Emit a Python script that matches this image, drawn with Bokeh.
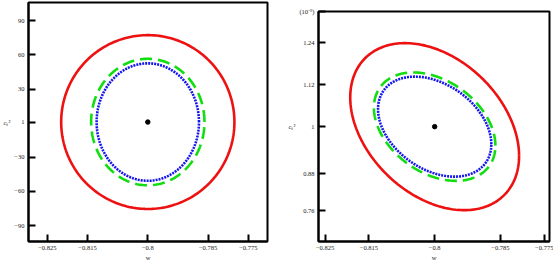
import numpy as np
from bokeh.plotting import figure
from bokeh.layouts import row
from bokeh.models import FixedTicker, Range1d
from bokeh.embed import file_html
from bokeh.resources import INLINE

# ---- data ----
x_ticks = [-0.825, -0.815, -0.8, -0.785, -0.775]
x_tick_labels = ["\u22120.825", "\u22120.815", "\u22120.8", "\u22120.785", "\u22120.775"]

left_y_ticks = [90, 60, 30, 1, -30, -60, -90]
left_y_labels = ["90", "60", "30", "1", "\u221230", "\u221260", "\u221290"]
right_y_ticks = [1.24, 1.12, 1.0, 0.8675, 0.76]
right_y_labels = ["1.24", "1.12", "1", "0.88", "0.76"]

# best-fit point
left_center = (-0.8, 1.0)
right_center = (-0.8, 1.0)

# contour ellipses: red (solid), green (dashed), blue (dotted)
left_half_w = [0.02155, 0.0141, 0.01273]
left_half_h = [76.4, 55.6, 51.6]
left_corr = [0.0, 0.0, 0.0]
right_half_w = [0.01926, 0.01386, 0.01292]
right_half_h = [0.2382, 0.1546, 0.1426]
right_corr = [-0.35, -0.35, -0.35]

x_label = "w"
y_label = "c\u209b\u00b2"
right_scale_label = "(10\u207b\u2079)"

styles = [
    dict(line_color="#ee1111", line_width=2.6),
    dict(line_color="#11dd11", line_width=2.6, line_dash="12 6"),
    dict(line_color="#1515ee", line_width=2.6, line_dash="2 1"),
]

FONT = "Liberation Serif"


def contour(cx, cy, hw, hh, rho, n=240):
    t = np.linspace(0, 2 * np.pi, n)
    xs = cx + hw * np.cos(t)
    ys = cy + hh * (rho * np.cos(t) + np.sqrt(1 - rho ** 2) * np.sin(t))
    return xs, ys


def style_axis(ax, ticks, labels):
    ax.ticker = FixedTicker(ticks=ticks)
    ax.major_label_overrides = {t: l for t, l in zip(ticks, labels)}
    ax.major_label_text_font = FONT
    ax.major_label_text_font_size = "6.5px"
    ax.major_label_text_color = "#222222"
    ax.axis_line_width = 2
    ax.axis_line_color = "black"
    ax.major_tick_line_width = 2
    ax.major_tick_line_color = "black"
    ax.major_tick_in = 7
    ax.major_tick_out = 0
    ax.minor_tick_line_color = None
    ax.major_label_standoff = 4
    ax.axis_label_text_font = FONT
    ax.axis_label_text_font_size = "6.5px"
    ax.axis_label_text_font_style = "normal"
    ax.axis_label_text_color = "#222222"
    ax.axis_label_standoff = 1


def make_panel(xr, yr, fw, fh, bl, br, bt, bb, center, hws, hhs, rhos, yticks, ylabels):
    p = figure(
        width=bl + fw + br, height=bt + fh + bb,
        frame_width=fw, frame_height=fh,
        x_range=Range1d(*xr), y_range=Range1d(*yr),
        output_backend="svg", toolbar_location=None,
        min_border_left=bl, min_border_right=br, min_border_top=bt, min_border_bottom=bb,
    )
    p.grid.visible = False
    p.outline_line_color = "black"
    p.outline_line_width = 2
    p.outline_line_alpha = 1.0
    p.background_fill_color = "white"
    p.border_fill_color = "white"
    style_axis(p.xaxis[0], x_ticks, x_tick_labels)
    style_axis(p.yaxis[0], yticks, ylabels)
    p.xaxis[0].axis_label = x_label
    p.yaxis[0].axis_label = y_label
    try:
        p.yaxis[0].axis_label_orientation = "horizontal"
    except Exception:
        pass
    for hw, hh, rho, st in zip(hws, hhs, rhos, styles):
        xs, ys = contour(center[0], center[1], hw, hh, rho)
        p.line(xs, ys, **st)
    p.scatter([center[0]], [center[1]], size=4.5, color="black")
    return p


left_xr = (-0.82968, -0.77022)
left_yr = (-104.0, 106.1)
right_xr = (-0.8265, -0.7738)
right_yr = (0.6724, 1.3284)

# frames in a row get their tops aligned, so the left panel gets the same top
# border as the right one and is then lifted by 9px with CSS
p1 = make_panel(left_xr, left_yr, 239, 239, 27, 9, 11, 22,
                left_center, left_half_w, left_half_h, left_corr,
                left_y_ticks, left_y_labels)
# the scale factor sits at the top-left corner of the right panel
p2 = make_panel(right_xr, right_yr, 231, 230, 42, 5, 11, 22,
                right_center, right_half_w, right_half_h, right_corr,
                right_y_ticks + [right_yr[1]], right_y_labels + [right_scale_label])

p1.styles = {"position": "relative", "top": "-9px"}

layout = row(p1, p2)
html = file_html(layout, INLINE)
html = html.replace("<head>", "<head><style>body{margin:0;overflow:hidden;}</style>", 1)
open("out.html", "w").write(html)
